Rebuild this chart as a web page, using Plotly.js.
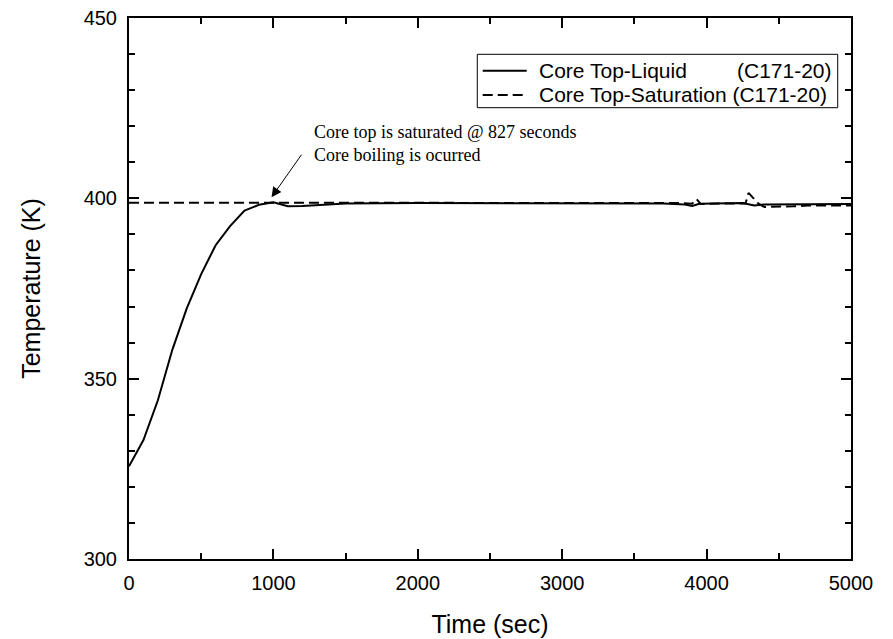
<!DOCTYPE html>
<html>
<head>
<meta charset="utf-8">
<script src="https://cdn.plot.ly/plotly-3.0.1.min.js"></script>
<style>html,body{margin:0;padding:0;background:#fff;}#chart{width:893px;height:639px;}</style>
</head>
<body>
<div id="chart"></div>
<script>
// Core Top-Liquid (C171-20)
const timeLiquid = [0, 100, 200, 300, 400, 500, 600, 700, 800, 900, 1000, 1050, 1100, 1200, 1300, 1500, 2000, 2500, 3000, 3400, 3700, 3850, 3900, 3950, 4100, 4250, 4330, 4400, 5000];
const tempLiquid = [325.7, 333.0, 344.0, 358.0, 369.5, 379.0, 387.0, 392.3, 396.6, 398.2, 398.9, 398.3, 397.8, 397.9, 398.1, 398.6, 398.7, 398.7, 398.7, 398.8, 398.6, 398.3, 397.9, 398.5, 398.7, 398.7, 398.0, 398.3, 398.4];
// Core Top-Saturation (C171-20)
const timeSat = [0, 1000, 2000, 3000, 3800, 3900, 3930, 3960, 4100, 4270, 4290, 4360, 4400, 4600, 4700, 5000];
const tempSat = [398.8, 398.8, 398.7, 398.7, 398.7, 398.5, 399.8, 398.4, 398.6, 398.6, 401.5, 398.5, 397.6, 397.8, 398.0, 398.0];

const seriesNames = ['Core Top-Liquid', 'Core Top-Saturation'];
const caseLabel = '(C171-20)';

const sans = 'Liberation Sans, Arial, sans-serif';
const serif = 'Liberation Serif, Times New Roman, serif';

const traces = [
  {x: timeLiquid, y: tempLiquid, type: 'scatter', mode: 'lines', name: seriesNames[0] + ' ' + caseLabel,
   line: {color: '#000', width: 2}, showlegend: false},
  {x: timeSat, y: tempSat, type: 'scatter', mode: 'lines', name: seriesNames[1] + ' ' + caseLabel,
   line: {color: '#000', width: 2, dash: '10px,5px'}, showlegend: false}
];

const axisCommon = {
  showline: true, linecolor: '#000', linewidth: 2, mirror: 'ticks',
  ticks: 'inside', ticklen: 10, tickwidth: 2, tickcolor: '#000',
  showgrid: false, zeroline: false,
  tickfont: {family: sans, size: 20, color: '#000'}
};

// legend drawn in paper coordinates
const lg = {x0: 0.4824, x1: 0.9816, y0: 0.8342, y1: 0.9329, rows: [0.9026, 0.8577],
            sx0: 0.4899, sx1: 0.5508, tx: 0.5655, rx: 0.9765};
const legendFont = {family: sans, size: 21, color: '#000'};

const shapes = [
  {type: 'rect', xref: 'paper', yref: 'paper', x0: lg.x0, x1: lg.x1, y0: lg.y0, y1: lg.y1,
   line: {color: '#000', width: 1}, fillcolor: '#fff', layer: 'above'},
  {type: 'line', xref: 'paper', yref: 'paper', x0: lg.sx0, x1: lg.sx1, y0: lg.rows[0], y1: lg.rows[0],
   line: {color: '#000', width: 2}},
  {type: 'line', xref: 'paper', yref: 'paper', x0: lg.sx0, x1: lg.sx1, y0: lg.rows[1], y1: lg.rows[1],
   line: {color: '#000', width: 2, dash: '10px,5px'}}
];

const layout = {
  width: 893, height: 639,
  margin: {l: 129, r: 42, t: 18, b: 80},
  paper_bgcolor: '#fff', plot_bgcolor: '#fff',
  showlegend: false,
  xaxis: Object.assign({}, axisCommon, {
    range: [0, 5000], dtick: 1000, tick0: 0,
    ticklabelstandoff: 5,
    minor: {dtick: 500, ticks: 'inside', ticklen: 6, tickwidth: 2, tickcolor: '#000', showgrid: false},
    title: {text: 'Time (sec)', font: {family: sans, size: 25, color: '#000'}, standoff: 22}
  }),
  yaxis: Object.assign({}, axisCommon, {
    range: [300, 450], dtick: 50, tick0: 300,
    ticklabelstandoff: 6,
    minor: {dtick: 10, ticks: 'inside', ticklen: 6, tickwidth: 2, tickcolor: '#000', showgrid: false},
    title: {text: 'Temperature (K)', font: {family: sans, size: 25, color: '#000'}, standoff: 36}
  }),
  shapes: shapes,
  annotations: [
    {x: 1264, y: 415.2, xref: 'x', yref: 'y', xanchor: 'left', yanchor: 'middle', align: 'left',
     showarrow: false, text: 'Core top is saturated @ 827 seconds<br>Core boiling is ocurred',
     font: {family: serif, size: 18, color: '#000'}},
    {x: 987, y: 400.3, xref: 'x', yref: 'y', ax: 31, ay: -44, text: '',
     showarrow: true, arrowhead: 2, arrowsize: 2, arrowwidth: 1, arrowcolor: '#000'},
    {x: lg.tx, y: lg.rows[0], xref: 'paper', yref: 'paper', xanchor: 'left', yanchor: 'middle',
     showarrow: false, text: seriesNames[0], font: legendFont},
    {x: lg.rx, y: lg.rows[0], xref: 'paper', yref: 'paper', xanchor: 'right', yanchor: 'middle',
     showarrow: false, text: caseLabel, font: legendFont},
    {x: lg.tx, y: lg.rows[1], xref: 'paper', yref: 'paper', xanchor: 'left', yanchor: 'middle',
     showarrow: false, text: seriesNames[1] + ' ' + caseLabel, font: legendFont}
  ]
};

Plotly.newPlot('chart', traces, layout, {staticPlot: true, displayModeBar: false});
</script>
</body>
</html>
